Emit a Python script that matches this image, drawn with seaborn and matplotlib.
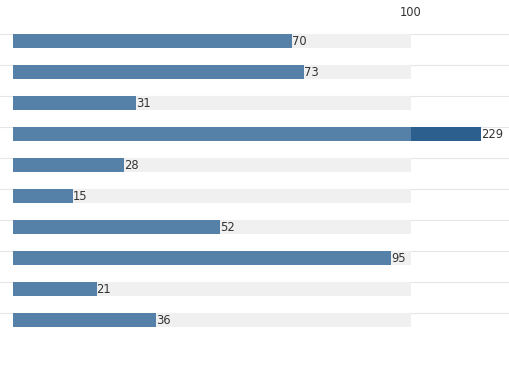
import matplotlib
matplotlib.use("Agg")
import matplotlib.pyplot as plt
import seaborn as sns
import pandas as pd
import numpy as np

categories = ["A", "B", "C", "D", "E", "F", "G", "H", "I", "J"]
values = [70, 73, 31, 229, 28, 15, 52, 95, 21, 36]
target = 100
tick_labels = ["100"]

# overflow beyond the target is drawn compressed (broken scale)
overflow_shown = 17.6

sns.set_theme(style="white")
plt.rcParams["font.family"] = ["DejaVu Sans"]

df = pd.DataFrame({
    "cat": categories,
    "value": values,
    "track": [target] * len(values),
    "main": [min(v, target) for v in values],
    "over": [(target + overflow_shown) if v > target else 0 for v in values],
})

fig = plt.figure(figsize=(5.10, 3.66), dpi=100)
ax = fig.add_axes([13 / 510, 0, 497 / 510, 341 / 366])

bh = 0.48
kw = dict(width=bh, ax=ax, saturation=1, orient="h", linewidth=0)
sns.barplot(data=df, y="cat", x="track", color="#f0f0f0", **kw)
sns.barplot(data=df, y="cat", x="over", color="#2c5f8e", **kw)
sns.barplot(data=df, y="cat", x="main", color="#5580a7", **kw)

# separator lines at top of each row
for i in range(len(categories)):
    ax.plot([-13 / 3.98, 130], [i - bh / 2, i - bh / 2], color="#e6e6e6",
            lw=0.8, zorder=0.5, clip_on=False)

for i, v in enumerate(values):
    end = df["over"][i] if v > target else v
    ax.text(end, i + 0.03, str(v), va="center", ha="left",
            fontsize=8.3, color="#333333")

ax.set_xlim(0, 497 / 3.98)
ax.set_ylim(10.484, -0.516)
ax.xaxis.tick_top()
ax.set_xticks([target])
ax.set_xticklabels(tick_labels, fontsize=8.3, color="#333333")
ax.tick_params(axis="x", length=0, pad=4.5)
ax.set_yticks([])
ax.set_xlabel("")
ax.set_ylabel("")
for s in ax.spines.values():
    s.set_visible(False)

fig.savefig("out.png", dpi=100)
